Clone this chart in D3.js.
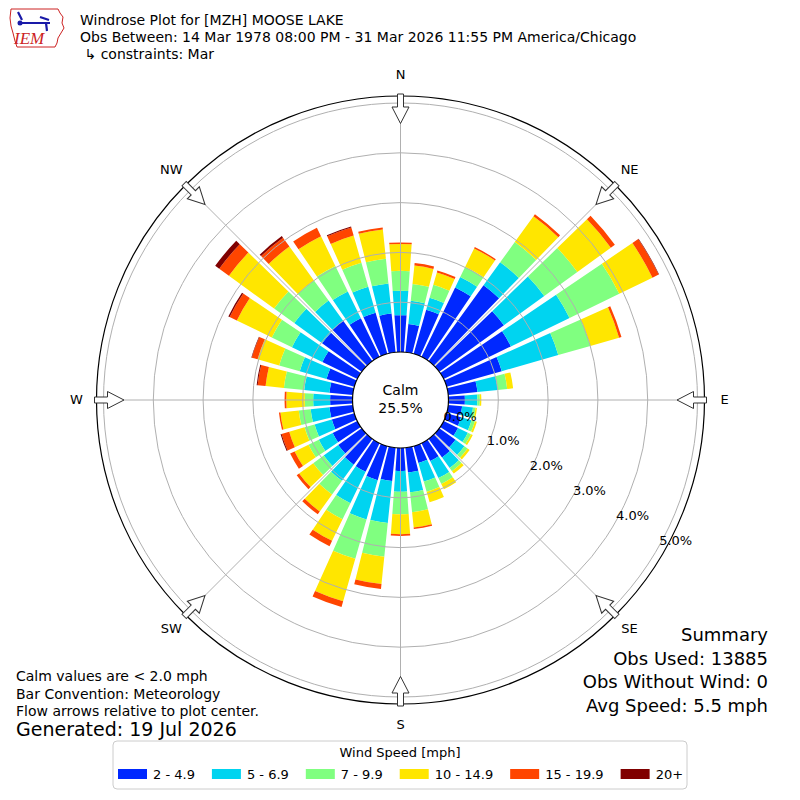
<!DOCTYPE html>
<html>
<head>
<meta charset="utf-8">
<script src="https://cdn.jsdelivr.net/npm/d3@7"></script>
<style>
body { margin: 0; background: #fff; }
text { font-family: "DejaVu Sans", sans-serif; fill: #000; }
</style>
</head>
<body>
<svg id="myGraph" width="800" height="800"></svg>
<script>
// wind directions (deg, meteorological), one bar each
var directions = d3.range(0, 360, 10);

// percent of obs per direction, one array per speed bin
var spd2to5 = [0.74, 0.57, 0.92, 1.55, 1.88, 1.60, 1.50, 1.15, 0.59, 0.33, 0.28, 0.30,
               0.32, 0.40, 0.46, 0.40, 0.35, 0.50, 0.46, 0.67, 0.71, 0.64, 0.64, 0.58,
               0.55, 0.47, 0.47, 0.45, 0.47, 0.58, 0.78, 0.98, 1.00, 0.86, 0.86, 0.78];
var spd5to7 = [0.49, 0.47, 0.25, 0.23, 0.57, 1.00, 1.31, 1.18, 0.41, 0.25, 0.22, 0.22,
               0.22, 0.22, 0.26, 0.38, 0.39, 0.40, 0.42, 0.85, 0.82, 0.70, 0.40, 0.36,
               0.31, 0.36, 0.38, 0.34, 0.51, 0.56, 0.68, 0.69, 0.50, 0.60, 0.54, 0.61];
var spd7to10 = [0.40, 0.34, 0.27, 0.23, 0.50, 0.82, 1.11, 0.67, 0.19, 0.05, 0.05, 0.07,
                0.07, 0.08, 0.08, 0.13, 0.21, 0.40, 0.45, 0.68, 0.82, 0.36, 0.34, 0.26,
                0.23, 0.21, 0.24, 0.17, 0.41, 0.43, 0.45, 0.50, 0.50, 0.57, 0.50, 0.50];
var spd10to15 = [0.54, 0.37, 0.26, 0.41, 0.64, 0.83, 0.74, 0.60, 0.12, 0.03, 0.03, 0.04,
                 0.04, 0.05, 0.06, 0.12, 0.22, 0.31, 0.40, 0.55, 0.89, 0.48, 0.42, 0.35,
                 0.31, 0.32, 0.37, 0.37, 0.37, 0.45, 0.78, 1.12, 0.84, 0.66, 0.57, 0.59];
var spd15to20 = [0.03, 0.05, 0.04, 0.03, 0.05, 0.10, 0.14, 0.05, 0, 0, 0, 0,
                 0, 0, 0, 0, 0, 0.03, 0.035, 0.10, 0.12, 0.12, 0.07, 0.06,
                 0.10, 0.16, 0.03, 0.035, 0.16, 0.12, 0.16, 0.24, 0.22, 0.19, 0.17, 0.04];
var spd20up = [0, 0, 0, 0, 0, 0, 0.01, 0, 0, 0, 0, 0,
               0, 0, 0, 0, 0, 0, 0, 0, 0, 0, 0, 0,
               0, 0.02, 0, 0, 0.02, 0.01, 0.03, 0.10, 0.04, 0, 0.02, 0];

var binLabels = ['2 - 4.9', '5 - 6.9', '7 - 9.9', '10 - 14.9', '15 - 19.9', '20+'];
var binColors = ['#0028ff', '#00d4f0', '#80ff80', '#ffe600', '#ff4500', '#800000'];
var ringTicks = [0, 1, 2, 3, 4, 5];
var ringLabels = ['0.0%', '1.0%', '2.0%', '3.0%', '4.0%', '5.0%'];
var compassNames = ['N', 'NE', 'E', 'SE', 'S', 'SW', 'W', 'NW'];

var series = [spd2to5, spd5to7, spd7to10, spd10to15, spd15to20, spd20up];

var cx = 400.5, cy = 400;
var outerR = 304;

var r = d3.scaleLinear().domain([0, 5]).range([48, 297]);

var svg = d3.select('#myGraph');
var plot = svg.append('g').attr('transform', 'translate(' + cx + ',' + cy + ')');

// stacked bars
var halfW = 4.1 * Math.PI / 180;
var arc = d3.arc();
var segs = [];
directions.forEach(function(dir, i) {
  var cum = 0;
  series.forEach(function(s, k) {
    if (s[i] > 0) {
      segs.push({ dir: dir, lo: cum, hi: cum + s[i], bin: k });
    }
    cum += s[i];
  });
});

plot.selectAll('path.bar')
  .data(segs)
  .enter()
  .append('path')
  .attr('class', 'bar')
  .attr('fill', function(d) { return binColors[d.bin]; })
  .attr('d', function(d) {
    var a = d.dir * Math.PI / 180;
    return arc({
      innerRadius: r(d.lo),
      outerRadius: r(d.hi),
      startAngle: a - halfW,
      endAngle: a + halfW
    });
  });

// grid rings
plot.selectAll('circle.ring')
  .data(ringTicks.slice(1))
  .enter()
  .append('circle')
  .attr('r', function(d) { return r(d); })
  .attr('fill', 'none')
  .attr('stroke', '#b0b0b0')
  .attr('stroke-width', 1);

// spokes
plot.selectAll('line.spoke')
  .data(d3.range(0, 360, 45))
  .enter()
  .append('line')
  .attr('x1', function(d) { return r(0) * Math.sin(d * Math.PI / 180); })
  .attr('y1', function(d) { return -r(0) * Math.cos(d * Math.PI / 180); })
  .attr('x2', function(d) { return outerR * Math.sin(d * Math.PI / 180); })
  .attr('y2', function(d) { return -outerR * Math.cos(d * Math.PI / 180); })
  .attr('stroke', '#b0b0b0')
  .attr('stroke-width', 1);

plot.append('circle')
  .attr('r', outerR)
  .attr('fill', 'none')
  .attr('stroke', '#000')
  .attr('stroke-width', 1.2);

// calm circle
plot.append('circle')
  .attr('r', r(0))
  .attr('fill', '#fff')
  .attr('stroke', '#000')
  .attr('stroke-width', 1.2);

plot.append('text')
  .attr('x', 0).attr('y', -10)
  .attr('text-anchor', 'middle')
  .attr('dominant-baseline', 'central')
  .style('font-size', '14px')
  .text('Calm');
plot.append('text')
  .attr('x', 0).attr('y', 8)
  .attr('text-anchor', 'middle')
  .attr('dominant-baseline', 'central')
  .style('font-size', '14px')
  .text('25.5%');

// flow arrows
plot.selectAll('path.arrow')
  .data(d3.range(0, 360, 45))
  .enter()
  .append('path')
  .attr('transform', function(d) { return 'rotate(' + d + ')'; })
  .attr('d', 'M-3,-306L3,-306L3,-293L8.5,-293L0,-276.5L-8.5,-293L-3,-293Z')
  .attr('fill', '#fff')
  .attr('stroke', '#333')
  .attr('stroke-width', 1);

// compass labels
plot.selectAll('text.compass')
  .data(compassNames)
  .enter()
  .append('text')
  .attr('x', function(d, i) { return 324 * Math.sin(i * 45 * Math.PI / 180); })
  .attr('y', function(d, i) { return -325 * Math.cos(i * 45 * Math.PI / 180) - 1; })
  .attr('text-anchor', 'middle')
  .attr('dominant-baseline', 'central')
  .style('font-size', '13px')
  .text(function(d) { return d; });

// ring labels along 120 deg
var labAng = 120 * Math.PI / 180;
plot.selectAll('text.rlab')
  .data(ringTicks)
  .enter()
  .append('text')
  .attr('x', function(d) { return r(d) * Math.sin(labAng) + 18; })
  .attr('y', function(d) { return -r(d) * Math.cos(labAng) - 8; })
  .attr('text-anchor', 'middle')
  .attr('dominant-baseline', 'central')
  .style('font-size', '13px')
  .text(function(d, i) { return ringLabels[i]; });

// header
var logo = svg.append('g');
logo.append('path')
  .attr('d', 'M11,9L58,9L60,13L63,17L62,23L64,28L61,33L58,38L57,43L55,47L17,47L15,41L13,33L11,26L10,18Z')
  .attr('fill', 'none')
  .attr('stroke', '#cc2222')
  .attr('stroke-width', 1);
logo.append('path')
  .attr('d', 'M18,12L22,20M20,23L50,23M40,17L49,20M46,23L47,31')
  .attr('stroke', '#1a1aa8')
  .attr('stroke-width', 2.2)
  .attr('fill', 'none');
logo.append('circle').attr('cx', 20).attr('cy', 23).attr('r', 2.5).attr('fill', '#1a1aa8');
logo.append('text')
  .attr('x', 14).attr('y', 44)
  .style('font-family', '"Liberation Serif", serif')
  .style('font-style', 'italic')
  .style('font-size', '17px')
  .style('fill', '#cc2222')
  .text('IEM');

var header = ['Windrose Plot for [MZH] MOOSE LAKE',
  'Obs Between: 14 Mar 1978 08:00 PM - 31 Mar 2026 11:55 PM America/Chicago',
  ' \u21b3 constraints: Mar'];
svg.selectAll('text.hdr')
  .data(header)
  .enter()
  .append('text')
  .attr('x', 80)
  .attr('y', function(d, i) { return 25 + i * 17; })
  .attr('xml:space', 'preserve')
  .style('font-size', '14px')
  .text(function(d) { return d; });

// footnotes
var notes = ['Calm values are < 2.0 mph', 'Bar Convention: Meteorology',
  'Flow arrows relative to plot center.'];
svg.selectAll('text.note')
  .data(notes)
  .enter()
  .append('text')
  .attr('x', 16)
  .attr('y', function(d, i) { return 681 + i * 17.5; })
  .style('font-size', '14px')
  .text(function(d) { return d; });
svg.append('text')
  .attr('x', 16).attr('y', 736)
  .style('font-size', '19px')
  .text('Generated: 19 Jul 2026');

var summary = ['Summary', 'Obs Used: 13885', 'Obs Without Wind: 0', 'Avg Speed: 5.5 mph'];
svg.selectAll('text.summary')
  .data(summary)
  .enter()
  .append('text')
  .attr('x', 768)
  .attr('y', function(d, i) { return 641 + i * 23.5; })
  .attr('text-anchor', 'end')
  .style('font-size', '18px')
  .text(function(d) { return d; });

// legend
var legend = svg.append('g');
legend.append('rect')
  .attr('x', 113).attr('y', 741)
  .attr('width', 574).attr('height', 48)
  .attr('rx', 4)
  .attr('fill', '#fff')
  .attr('stroke', '#cccccc');
legend.append('text')
  .attr('x', 400).attr('y', 757)
  .attr('text-anchor', 'middle')
  .style('font-size', '13px')
  .text('Wind Speed [mph]');

var lx = 118;
binLabels.forEach(function(lab, i) {
  legend.append('rect')
    .attr('x', lx).attr('y', 769)
    .attr('width', 29).attr('height', 10)
    .attr('fill', binColors[i]);
  var t = legend.append('text')
    .attr('x', lx + 35).attr('y', 779)
    .style('font-size', '13px')
    .text(lab);
  lx += 35 + t.node().getComputedTextLength() + 17;
});
</script>
</body>
</html>
